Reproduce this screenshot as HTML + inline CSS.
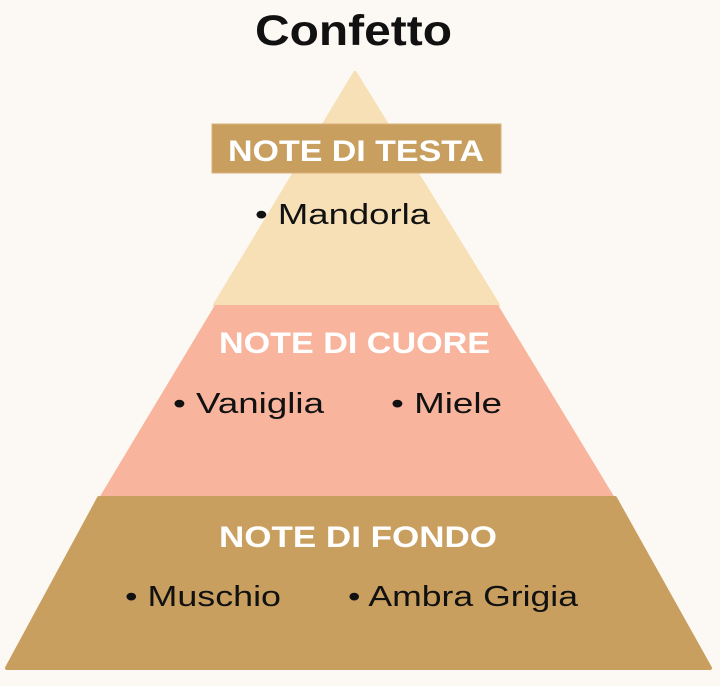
<!DOCTYPE html>
<html><head><meta charset="utf-8"><style>
html,body{margin:0;padding:0;background:#fcf9f4;}
body{width:720px;height:681px;overflow:hidden;}
</style></head><body>
<svg width="720" height="681" viewBox="0 0 720 681" xmlns="http://www.w3.org/2000/svg" font-family="Liberation Sans, sans-serif">
<rect width="720" height="681" fill="#fcf9f4"/>
<text x="255" y="45" font-size="43" font-weight="bold" fill="#111" textLength="197" lengthAdjust="spacingAndGlyphs">Confetto</text>
<polygon points="355,73 498,305 215,305" fill="#f7dfb6" stroke="#f7dfb6" stroke-linejoin="round" stroke-width="4"/>
<polygon points="215,305 498,305 615,498 99,498" fill="#f8b49d"/>
<polygon points="99,498 615,498 710,668 7,668" fill="#c99f60" stroke="#c99f60" stroke-linejoin="round" stroke-width="4"/>
<rect x="212" y="124" width="289" height="49" fill="#c99f60" stroke="#d9b27a" stroke-width="1"/>
<text x="228" y="161" font-size="30" font-weight="bold" fill="#fff" textLength="256" lengthAdjust="spacingAndGlyphs">NOTE DI TESTA</text>
<text x="255" y="224" font-size="29" fill="#111" textLength="175" lengthAdjust="spacingAndGlyphs">• Mandorla</text>
<text x="219" y="353" font-size="30" font-weight="bold" fill="#fff" textLength="271" lengthAdjust="spacingAndGlyphs">NOTE DI CUORE</text>
<text x="173" y="413" font-size="29" fill="#111" textLength="151" lengthAdjust="spacingAndGlyphs">• Vaniglia</text>
<text x="391" y="413" font-size="29" fill="#111" textLength="111" lengthAdjust="spacingAndGlyphs">• Miele</text>
<text x="219" y="547" font-size="30" font-weight="bold" fill="#fff" textLength="278" lengthAdjust="spacingAndGlyphs">NOTE DI FONDO</text>
<text x="125" y="606" font-size="29" fill="#111" textLength="156" lengthAdjust="spacingAndGlyphs">• Muschio</text>
<text x="348" y="606" font-size="29" fill="#111" textLength="230" lengthAdjust="spacingAndGlyphs">• Ambra Grigia</text>
</svg>
</body></html>
